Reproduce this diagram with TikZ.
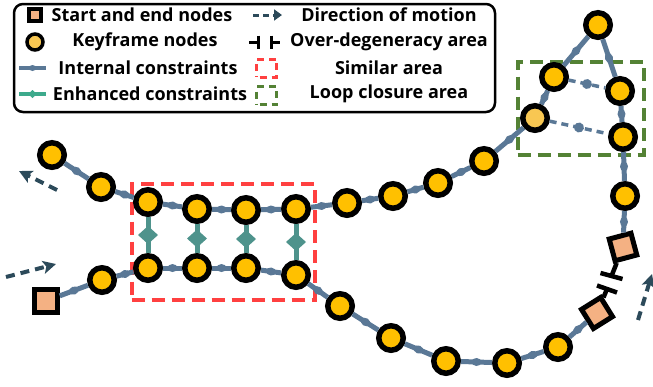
\documentclass[tikz,border=0pt]{standalone}
\usepackage{fontspec}
\setmainfont{Open Sans}
\usetikzlibrary{arrows.meta,shapes.geometric,calc}

\definecolor{kfgold}{HTML}{FFC000}
\definecolor{kfpale}{HTML}{F8C752}
\definecolor{sqfill}{HTML}{F4B183}
\definecolor{linkblue}{HTML}{5A7896}
\definecolor{enhteal}{HTML}{4E938C}
\definecolor{enhlegend}{HTML}{3DAA8C}
\definecolor{motiondark}{HTML}{2C4A5A}
\definecolor{simred}{HTML}{FF4040}
\definecolor{loopgreen}{HTML}{548235}

\begin{document}
\begin{tikzpicture}[x=1pt,y=-1pt,
  kf/.style={circle, draw=black, line width=5.5pt, fill=kfgold, minimum size=24.5pt, inner sep=0pt},
  kfp/.style={kf, fill=kfpale},
  endsq/.style={rectangle, draw=black, line width=5pt, fill=sqfill, minimum size=22.5pt, inner sep=0pt},
  link/.style={draw=linkblue, line width=5pt},
  edot/.style={ellipse, fill=linkblue, inner sep=0pt, minimum width=10pt, minimum height=8pt, sloped},
  loopedge/.style={draw=linkblue, line width=3.5pt, dash pattern=on 7pt off 5pt},
  enh/.style={draw=enhteal, line width=5pt},
  degen/.style={draw=black, line width=4.5pt},
  motion/.style={draw=motiondark, line width=4pt, dash pattern=on 9pt off 6pt,
    -{Stealth[length=13pt,width=13pt,inset=3pt]}},
  simbox/.style={draw=simred, line width=4pt, dash pattern=on 13pt off 7pt},
  loopbox/.style={draw=loopgreen, line width=4pt, dash pattern=on 13pt off 7pt},
  legtext/.style={font=\fontsize{18}{21}\selectfont\bfseries, inner sep=0pt}
]
\useasboundingbox (0,0) rectangle (653,386);

% ---------- legend ----------
\node[draw=black, line width=2.5pt, rounded corners=9pt, minimum width=481pt,
      minimum height=108pt, inner sep=0pt] (legend) at (254.5,58) {};

\node[rectangle, draw=black, line width=3.5pt, fill=sqfill, minimum size=12pt, inner sep=0pt] (lgsq) at (35,15) {};
\node[legtext] (lgt1) at (142,15) {Start and end nodes};
\node[circle, draw=black, line width=3.5pt, fill=kfpale, minimum size=16pt, inner sep=0pt] (lgkf) at (35,42) {};
\node[legtext] (lgt2) at (145,42) {Keyframe nodes};
\coordinate (lgia) at (19,68); \coordinate (lgib) at (46,68);
\draw[link, line width=3.5pt] (lgia) -- node[edot, minimum width=7pt, minimum height=6pt]{} (lgib);
\node[legtext] (lgt3) at (148,68) {Internal constraints};
\coordinate (lgea) at (19,94); \coordinate (lgeb) at (46,94);
\draw[draw=enhlegend, line width=3.5pt] (lgea) -- coordinate[midway] (lgem) (lgeb);
\fill[enhlegend] ($(lgem)+(-4.5,0)$) -- ($(lgem)+(0,-4)$) -- ($(lgem)+(4.5,0)$) -- ($(lgem)+(0,4)$) -- cycle;
\node[legtext] (lgt4) at (150,94) {Enhanced constraints};

\coordinate (lgma) at (253,15); \coordinate (lgmb) at (282,15);
\draw[motion, line width=3pt, dash pattern=on 6pt off 4pt,
      -{Triangle[length=8pt,width=11pt]}] (lgma) -- (lgmb);
\node[legtext] (lgt5) at (389,15) {Direction of motion};
% over-degeneracy glyph
\coordinate (lgda) at (249,42); \coordinate (lgdb) at (258,42);
\coordinate (lgdc) at (271,42); \coordinate (lgdd) at (280,42);
\draw[degen, line width=3pt] (lgda) -- (lgdb);
\draw[degen, line width=3pt] ($(lgdb)+(0,-6.5)$) -- ($(lgdb)+(0,6.5)$);
\draw[degen, line width=3pt] (lgdc) -- (lgdd);
\draw[degen, line width=3pt] ($(lgdc)+(0,-6.5)$) -- ($(lgdc)+(0,6.5)$);
\node[legtext] (lgt6) at (389,42) {Over-degeneracy area};
\node[draw=simred, line width=3pt, dash pattern=on 7pt off 5pt, dash phase=-3pt,
      minimum width=20pt, minimum height=18pt, inner sep=0pt] (lgsim) at (266.5,68) {};
\node[legtext] (lgt7) at (389,68) {Similar area};
\node[draw=loopgreen, line width=3pt, dash pattern=on 7pt off 5pt, dash phase=-3pt,
      minimum width=20pt, minimum height=18pt, inner sep=0pt] (lglp) at (266.5,95.5) {};
\node[legtext] (lgt8) at (389,94) {Loop closure area};

% ---------- area boxes ----------
\node[simbox, minimum width=183pt, minimum height=116pt, inner sep=0pt] (simarea) at (223,241.5) {};
\node[loopbox, minimum width=126pt, minimum height=93pt, inner sep=0pt] (looparea) at (580.5,108) {};

% ---------- keyframes: upper branch ----------
\node[kf] (u1) at (52,155) {};
\node[kf] (u2) at (101,187) {};
\node[kf] (u3) at (148,202) {};
\node[kf] (u4) at (197,209) {};
\node[kf] (u5) at (246,210) {};
\node[kf] (u6) at (296,209) {};
\node[kf] (u7) at (347,203) {};
\node[kf] (u8) at (393,196) {};
\node[kf] (u9) at (438,183) {};
\node[kf] (u10) at (484,161) {};
\node[kfp] (u11) at (535,118) {};
\node[kf] (u12) at (554,77) {};
\node[kf] (u13) at (598,25) {};
\node[kf] (u14) at (620,91) {};
\node[kf] (u15) at (623,137) {};
\node[kf] (u16) at (625,196) {};
\node[endsq, rotate=15] (s1) at (623,247) {};

% ---------- keyframes: lower branch ----------
\node[endsq] (s0) at (46,301) {};
\node[kf] (l1) at (102,280) {};
\node[kf] (l2) at (148,268) {};
\node[kf] (l3) at (197,268) {};
\node[kf] (l4) at (246,268) {};
\node[kf] (l5) at (296,275) {};
\node[kf] (l6) at (340,306) {};
\node[kf] (l7) at (391,338) {};
\node[kf] (l8) at (446,361) {};
\node[kf] (l9) at (507,363) {};
\node[kf] (l10) at (558,347) {};
\node[endsq, rotate=32] (s2) at (597,313) {};

% ---------- internal constraints ----------
\foreach \a/\b in {u1/u2,u2/u3,u3/u4,u4/u5,u5/u6,u6/u7,u7/u8,u8/u9,u9/u10,
                   u10/u11,u11/u12,u12/u13,u13/u14,u14/u15,u15/u16,u16/s1,
                   s0/l1,l1/l2,l2/l3,l3/l4,l4/l5,l5/l6,l6/l7,l7/l8,l8/l9,l9/l10,l10/s2}
  \draw[link] (\a) -- node[edot]{} (\b);

% ---------- loop closure constraints ----------
\draw[loopedge] (u12) -- node[edot, minimum width=10pt, minimum height=10pt]{} (u14);
\draw[loopedge] (u11) -- node[edot, minimum width=10pt, minimum height=10pt]{} (u15);

% ---------- enhanced constraints, each with a diamond marker ----------
\foreach \a/\b in {u3/l2,u4/l3,u5/l4,u6/l5} {
  \draw[enh] (\a) -- coordinate[midway] (em\a) (\b);
  \fill[enhteal] ($(em\a)+(-10,0)$) -- ($(em\a)+(0,-9)$) -- ($(em\a)+(10,0)$)
                 -- ($(em\a)+(0,9)$) -- cycle;
}

% ---------- over-degeneracy gap ----------
\coordinate (dga) at (611.5,276);
\coordinate (dgb) at (607,289);
\draw[degen] (s1) -- (dga);
\draw[degen] ($(dga)+(-11,-3)$) -- ($(dga)+(11,3)$);
\draw[degen] (s2) -- (dgb);
\draw[degen] ($(dgb)+(-10,-3.5)$) -- ($(dgb)+(10,3.5)$);

% ---------- direction of motion ----------
\coordinate (mva) at (57,190); \coordinate (mvb) at (19,171);
\draw[motion] (mva) -- (mvb);
\coordinate (mvc) at (6,277); \coordinate (mvd) at (56,264);
\draw[motion] (mvc) -- (mvd);
\coordinate (mve) at (638,320); \coordinate (mvf) at (652,274);
\draw[motion] (mve) -- (mvf);
\end{tikzpicture}
\end{document}
